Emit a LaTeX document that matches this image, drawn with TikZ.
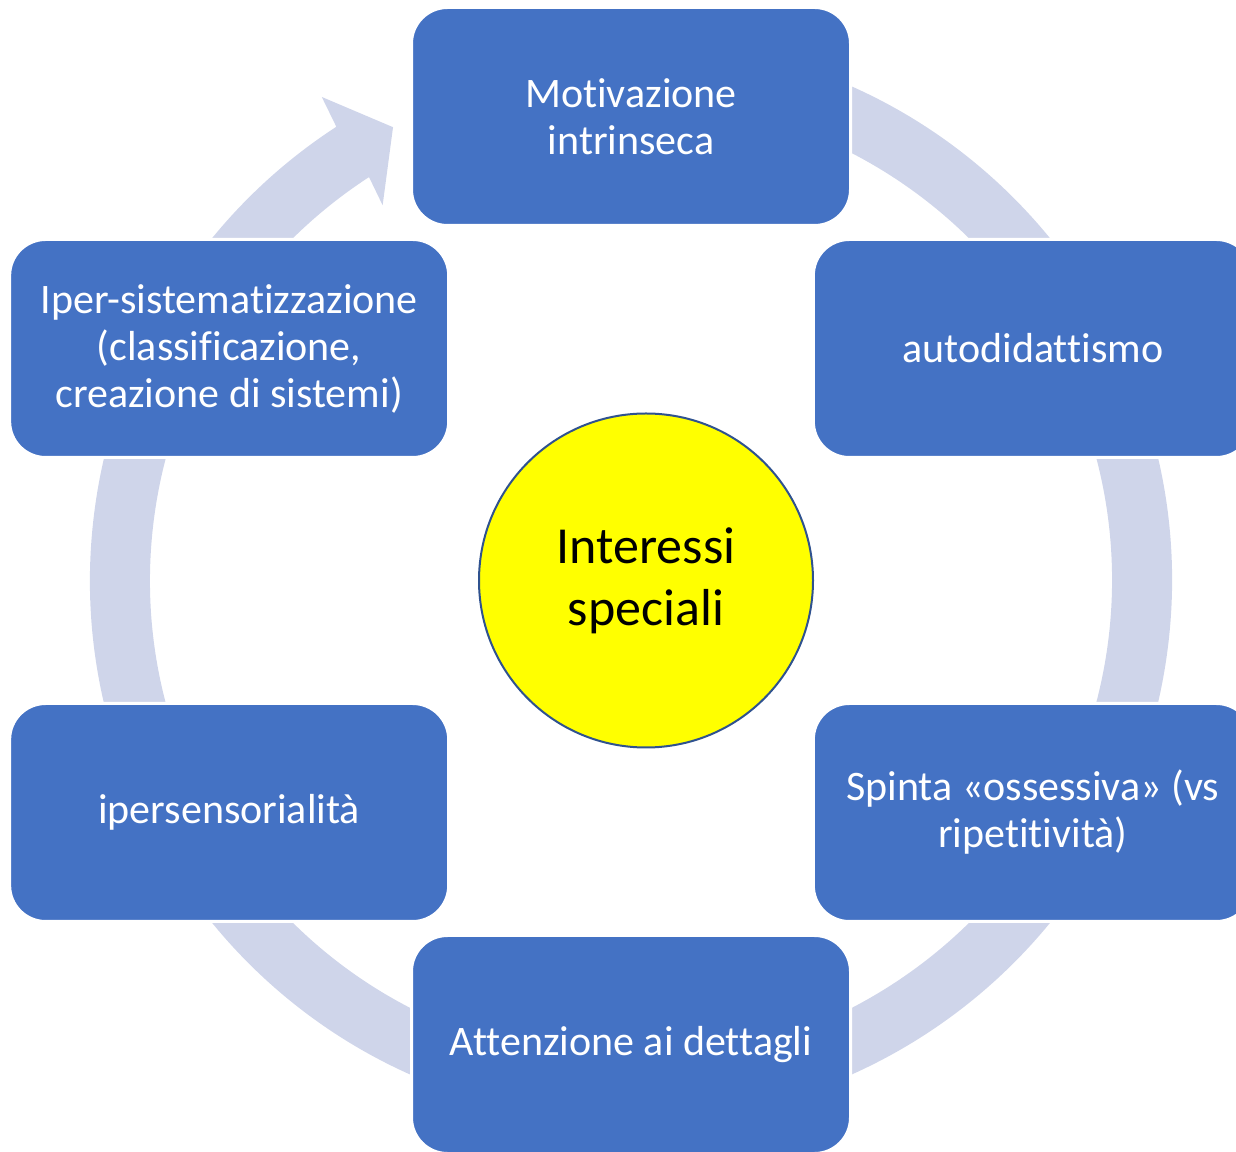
\documentclass[tikz,border=0pt]{standalone}
\usepackage{fontspec}
\setmainfont{Carlito}[Ligatures={NoCommon,NoRare,NoContextual}]
\usetikzlibrary{calc}
\definecolor{boxblue}{HTML}{4472C4}
\definecolor{ringcol}{HTML}{CFD5EA}
\definecolor{circline}{HTML}{2F528F}
\definecolor{hubyellow}{RGB}{255,255,0}
\begin{document}
\begin{tikzpicture}[x=1pt,y=1pt,
  stepbox/.style={rectangle, rounded corners=36pt, fill=boxblue, draw=white, line width=3pt,
    minimum width=439pt, minimum height=218pt, text=white, align=center,
    font=\fontsize{42}{47}\selectfont, inner sep=0pt},
  hub/.style={circle, fill=hubyellow, draw=circline, line width=2pt, minimum size=334pt,
    align=center, font=\fontsize{52}{62}\selectfont, inner sep=0pt},
  ringstyle/.style={fill=ringcol}]
\useasboundingbox (0,0) rectangle (1236,1151);
\clip (0,0) rectangle (1236,1151);
\coordinate (C) at (631,570.5);
\fill[ringstyle] ($(C)+(80:541)$) arc[start angle=80, end angle=-237, radius=541pt]
  -- ($(C)+(122.6:574)$) -- ($(C)+(117.7:512)$) -- ($(C)+(123.5:450)$)
  -- ($(C)+(123:481)$) arc[start angle=-237, end angle=80, radius=481pt] -- cycle;
\node[stepbox] (n1) at ($(C)+(90:464)$) {Motivazione\\intrinseca};
\node[stepbox] (n2) at ($(C)+(30:464)$) {autodidattismo};
\node[stepbox] (n3) at ($(C)+(-30:464)$) {Spinta «ossessiva» (vs\\ripetitività)};
\node[stepbox] (n4) at ($(C)+(-90:464)$) {Attenzione ai dettagli};
\node[stepbox] (n5) at ($(C)+(-150:464)$) {ipersensorialità};
\node[stepbox] (n6) at ($(C)+(150:464)$) {Iper-sistematizzazione\\(classificazione,\\creazione di sistemi)};
\node[hub] (hub) at (646,570.5) {Interessi\\speciali};
\end{tikzpicture}
\end{document}
